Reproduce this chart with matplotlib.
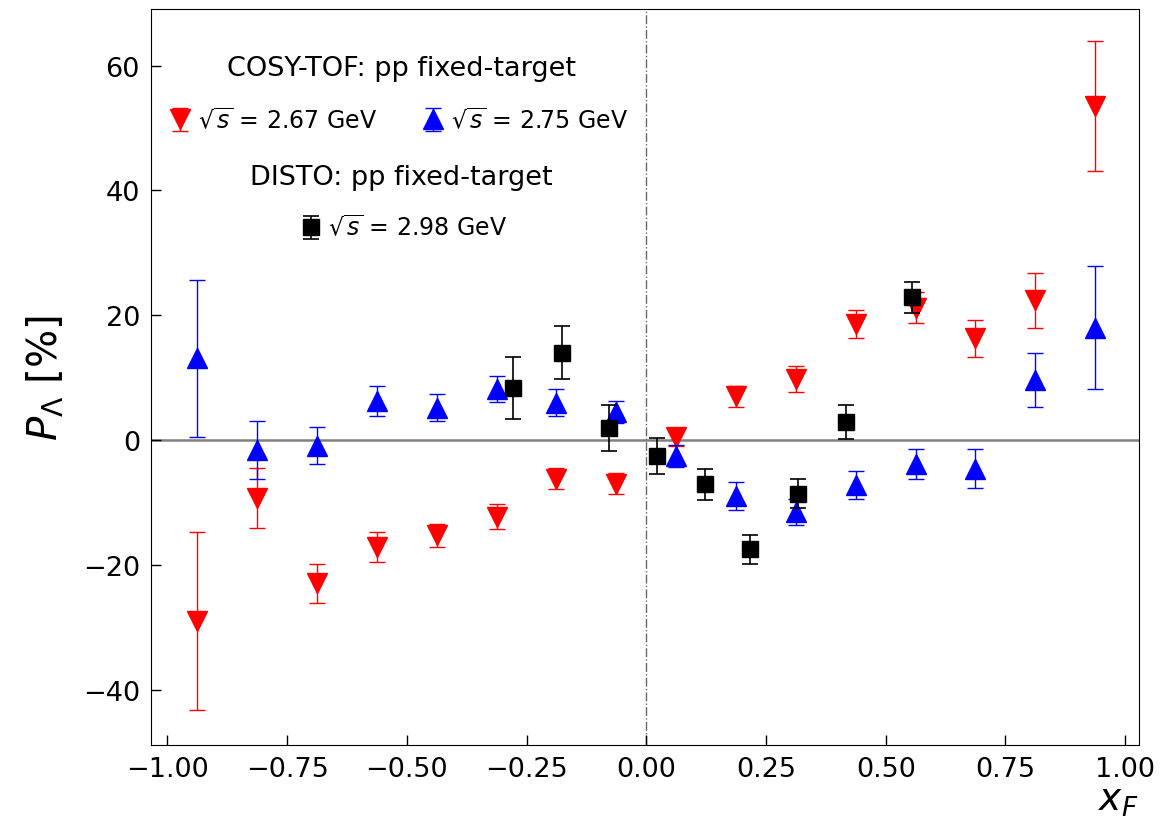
import numpy as np
import matplotlib
matplotlib.use('Agg')
import matplotlib.pyplot as plt

# COSY-TOF bins in x_F
xf_cosy = [-0.9375, -0.8125, -0.6875, -0.5625, -0.4375, -0.3125, -0.1875, -0.0625,
           0.0625, 0.1875, 0.3125, 0.4375, 0.5625, 0.6875, 0.8125, 0.9375]

# sqrt(s) = 2.67 GeV
p_267 = [-29.0, -9.3, -23.0, -17.1, -15.3, -12.3, -6.2, -7.0,
         0.5, 7.0, 9.8, 18.6, 21.2, 16.3, 22.4, 53.5]
e_267 = [14.3, 4.8, 3.2, 2.4, 1.9, 2.0, 1.7, 1.7,
         1.5, 1.7, 2.1, 2.3, 2.5, 3.0, 4.4, 10.4]

# sqrt(s) = 2.75 GeV
p_275 = [13.1, -1.6, -0.9, 6.2, 5.2, 8.2, 6.0, 4.5,
         -2.6, -9.0, -11.5, -7.2, -3.8, -4.6, 9.6, 18.0]
e_275 = [12.6, 4.6, 3.0, 2.4, 2.2, 2.1, 2.1, 1.7,
         1.8, 2.2, 2.1, 2.2, 2.4, 3.1, 4.3, 9.9]

# DISTO sqrt(s) = 2.98 GeV
xf_disto = [-0.278, -0.175, -0.077, 0.023, 0.123, 0.217, 0.317, 0.418, 0.555]
p_298 = [8.3, 14.0, 1.9, -2.6, -7.1, -17.5, -8.6, 2.9, 22.9]
e_298 = [5.0, 4.2, 3.7, 2.9, 2.5, 2.3, 2.3, 2.7, 2.5]

xticks = [-1.00, -0.75, -0.50, -0.25, 0.00, 0.25, 0.50, 0.75, 1.00]
yticks = [-40, -20, 0, 20, 40, 60]


def main():
    fig = plt.figure(figsize=(11.71, 8.28), dpi=100)
    ax = fig.add_axes([0.129, 0.099, 0.8437, 0.889])

    ax.axhline(0, color='gray', lw=1.8, zorder=1)
    ax.axvline(0, color='dimgray', lw=1.0, ls='-.', zorder=1)

    h1 = ax.errorbar(xf_cosy, p_267, yerr=e_267, fmt='v', color='red', ms=15,
                     elinewidth=1, capsize=6, capthick=1,
                     label=r'$\sqrt{s}$ = 2.67 GeV', zorder=3)
    h2 = ax.errorbar(xf_cosy, p_275, yerr=e_275, fmt='^', color='blue', ms=15,
                     elinewidth=1, capsize=6, capthick=1,
                     label=r'$\sqrt{s}$ = 2.75 GeV', zorder=4)
    h3 = ax.errorbar(xf_disto, p_298, yerr=e_298, fmt='s', color='black', ms=12,
                     elinewidth=1.2, capsize=6, capthick=1.2,
                     label=r'$\sqrt{s}$ = 2.98 GeV', zorder=5)

    # experiment headers
    ax.text(0.253, 0.920, 'COSY-TOF: pp fixed-target', transform=ax.transAxes,
            ha='center', va='center', fontsize=19.5)
    ax.text(0.253, 0.772, 'DISTO: pp fixed-target', transform=ax.transAxes,
            ha='center', va='center', fontsize=19.5)

    leg1 = ax.legend(handles=[h1, h2], ncol=2, frameon=False, fontsize=17,
                     loc='center', bbox_to_anchor=(0.250, 0.8495),
                     handlelength=1.0, handletextpad=0.25, columnspacing=1.9,
                     borderaxespad=0, borderpad=0)
    ax.add_artist(leg1)
    ax.legend(handles=[h3], frameon=False, fontsize=17,
              loc='center', bbox_to_anchor=(0.255, 0.703),
              handlelength=1.0, handletextpad=0.25, borderaxespad=0, borderpad=0)

    ax.set_xlim(-1.034, 1.029)
    ax.set_ylim(-48.9, 69.1)
    ax.set_xticks(xticks)
    ax.set_xticklabels([('%.2f' % t).replace('-', '\u2212') for t in xticks])
    ax.set_yticks(yticks)
    ax.tick_params(direction='in', length=7, width=1, labelsize=19.5, pad=8)

    ax.set_xlabel(r'$x_F$', fontsize=27, loc='right', labelpad=0)
    ax.set_ylabel(r'$P_\Lambda$ [%]', fontsize=29, labelpad=12)

    fig.savefig('out.png', dpi=100)


if __name__ == "__main__":
    main()
